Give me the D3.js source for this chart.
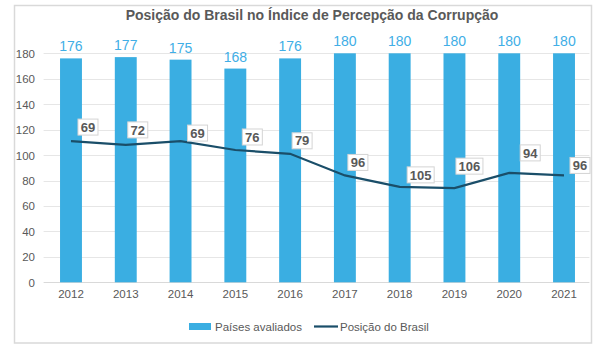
<!DOCTYPE html>
<html><head><meta charset="utf-8">
<script src="https://cdn.jsdelivr.net/npm/d3@7/dist/d3.min.js"></script>
<style>body{margin:0;background:#fff}svg{display:block;font-family:"Liberation Sans",Arial,sans-serif}</style>
</head><body><svg id="c" width="603" height="360"></svg>
<script>
const years = ["2012","2013","2014","2015","2016","2017","2018","2019","2020","2021"];
const paisesAvaliados = [176,177,175,168,176,180,180,180,180,180];
const posicaoBrasil = [69,72,69,76,79,96,105,106,94,96];
const yTicks = [0,20,40,60,80,100,120,140,160,180];
const title = "Posição do Brasil no Índice de Percepção da Corrupção";
const legendLabels = ["Países avaliados","Posição do Brasil"];
// label nudges (dx, dy) for the line data labels, as placed in the original
const labelNudge = [[17,-14],[12,-15],[17,-8],[17,-13],[12,-13],[13,-13],[21,-12],[15,-22],[21,-20],[16,-10]];

const svg = d3.select("#c");
const barColor = "#3aaee2", lineColor = "#1a4e69", textColor = "#595959";
const L = 43.6, R = 591.4, T = 53.3, B = 282.3;

svg.append("rect").attr("x",14.5).attr("y",5.5).attr("width",577).attr("height",337.5)
  .attr("fill","#fff").attr("stroke","#d9d9d9").attr("stroke-width",1.5);

const x = d3.scaleBand().domain(years).range([L,R]).paddingInner(0.6).paddingOuter(0.3);
const y = d3.scaleLinear().domain([0,180]).range([B,T]);

// gridlines
svg.append("g").selectAll("line").data(yTicks).join("line")
  .attr("x1",L).attr("x2",R-2).attr("y1",d=>Math.round(y(d))+0.5).attr("y2",d=>Math.round(y(d))+0.5)
  .attr("stroke",d=>d===0?"#d9d9d9":"#e6e6e6").attr("stroke-width",1);

// y axis labels
const yAxis = d3.axisLeft(y).tickValues(yTicks).tickSize(0).tickPadding(0);
const gy = svg.append("g").attr("transform",`translate(35,0)`).call(yAxis);
gy.select(".domain").remove();
gy.selectAll("text").attr("fill",textColor).style("font-size","11.5px").attr("dy","0.35em");

// x axis labels
const xAxis = d3.axisBottom(x).tickSize(0).tickPadding(0);
const gx = svg.append("g").attr("transform",`translate(0,${B+8})`).call(xAxis);
gx.select(".domain").remove();
gx.selectAll("text").attr("fill",textColor).style("font-size","11.5px").attr("dy","0.71em");

// bars
svg.append("g").selectAll("rect").data(years).join("rect")
  .attr("x",d=>x(d)).attr("width",x.bandwidth())
  .attr("y",(d,i)=>y(paisesAvaliados[i])).attr("height",(d,i)=>B-y(paisesAvaliados[i]))
  .attr("fill",barColor);

// bar labels
svg.append("g").selectAll("text").data(years).join("text")
  .attr("x",d=>x(d)+x.bandwidth()/2).attr("y",(d,i)=>y(paisesAvaliados[i])-7)
  .attr("text-anchor","middle").attr("fill","#41aee6").style("font-size","14px")
  .text((d,i)=>paisesAvaliados[i]);

// line (plotted as 180 - position)
const cx = d=>x(d)+x.bandwidth()/2;
const line = d3.line().x((d,i)=>cx(years[i])).y(d=>y(180-d));
svg.append("path").datum(posicaoBrasil).attr("d",line)
  .attr("fill","none").attr("stroke",lineColor).attr("stroke-width",2.2);

// line labels
const lg = svg.append("g").selectAll("g").data(posicaoBrasil).join("g")
  .attr("transform",(d,i)=>`translate(${cx(years[i])+labelNudge[i][0]},${y(180-d)+labelNudge[i][1]})`);
lg.append("rect")
  .attr("x",d=>String(d).length>2?-13.5:-10).attr("width",d=>String(d).length>2?27:20)
  .attr("y",-8).attr("height",16).attr("fill","#fff").attr("stroke","#d4d4d4").attr("stroke-width",1);
lg.append("text").attr("text-anchor","middle").attr("dy","0.36em")
  .attr("fill",textColor).style("font-size","13px").style("font-weight","bold").text(d=>d);

// title
svg.append("text").attr("x",312).attr("y",20).attr("text-anchor","middle")
  .attr("fill",textColor).style("font-size","14px").style("font-weight","bold").text(title);

// legend
const leg = svg.append("g");
leg.append("rect").attr("x",189).attr("y",323).attr("width",22).attr("height",7).attr("fill",barColor);
leg.append("text").attr("x",215).attr("y",327).attr("dy","0.35em").attr("fill",textColor)
  .style("font-size","11.5px").text(legendLabels[0]);
leg.append("line").attr("x1",314).attr("x2",338).attr("y1",326.5).attr("y2",326.5)
  .attr("stroke",lineColor).attr("stroke-width",2.2);
leg.append("text").attr("x",340).attr("y",327).attr("dy","0.35em").attr("fill",textColor)
  .style("font-size","11.5px").text(legendLabels[1]);
</script></body></html>
